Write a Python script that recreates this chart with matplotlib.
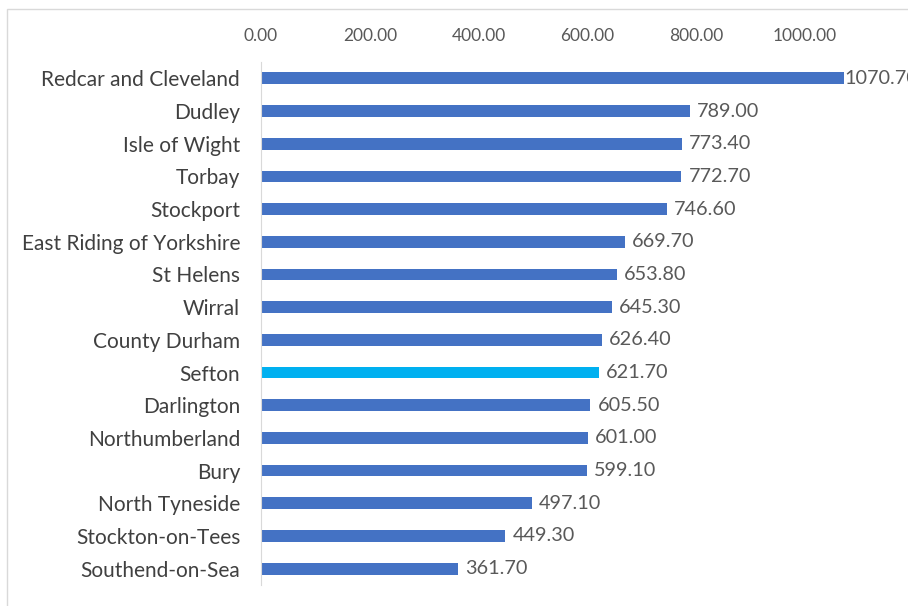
import matplotlib.pyplot as plt
from matplotlib.patches import Rectangle

areas = ["Redcar and Cleveland", "Dudley", "Isle of Wight", "Torbay", "Stockport",
         "East Riding of Yorkshire", "St Helens", "Wirral", "County Durham", "Sefton",
         "Darlington", "Northumberland", "Bury", "North Tyneside", "Stockton-on-Tees",
         "Southend-on-Sea"]
values = [1070.70, 789.00, 773.40, 772.70, 746.60, 669.70, 653.80, 645.30, 626.40,
          621.70, 605.50, 601.00, 599.10, 497.10, 449.30, 361.70]
highlight = "Sefton"
ticks = [0, 200, 400, 600, 800, 1000]

plt.rcParams["font.family"] = ["Lato", "DejaVu Sans"]

fig = plt.figure(figsize=(9.08, 6.06), dpi=100)
# light outer frame like a pasted spreadsheet chart
fig.patches.append(Rectangle((7 / 908, -0.05), 1.1, 1 - 9 / 606 + 0.05,
                             transform=fig.transFigure, fill=False,
                             edgecolor="#d9d9d9", linewidth=1.0))

ax = fig.add_axes([261 / 908, 1 - 585 / 606, 653 / 908, 523 / 606])

colors = ["#00b0f0" if a == highlight else "#4472c4" for a in areas]
y = range(len(areas))
ax.barh(y, values, height=0.36, color=colors)

for yi, v in zip(y, values):
    # the longest bar's label sits tight against the bar end
    off = 0.5 if v > 1000 else 5
    ax.annotate(f"{v:.2f}", (v, yi), xytext=(off, 0), textcoords="offset points",
                va="center", ha="left", fontsize=14.3, color="#595959",
                annotation_clip=False)

ax.set_ylim(len(areas) - 0.5, -0.5)
ax.set_xlim(0, 1200)
ax.set_yticks(list(y))
ax.set_yticklabels(areas, fontsize=15, color="#404040")
ax.set_xticks(ticks)
ax.set_xticklabels([f"{t:.2f}" for t in ticks], fontsize=12.5, color="#595959")
ax.xaxis.tick_top()
ax.tick_params(axis="both", length=0)
ax.tick_params(axis="x", pad=13)
ax.tick_params(axis="y", pad=15)

for side in ["top", "right", "bottom"]:
    ax.spines[side].set_visible(False)
ax.spines["left"].set_color("#d9d9d9")

fig.savefig("out.png", dpi=100)
